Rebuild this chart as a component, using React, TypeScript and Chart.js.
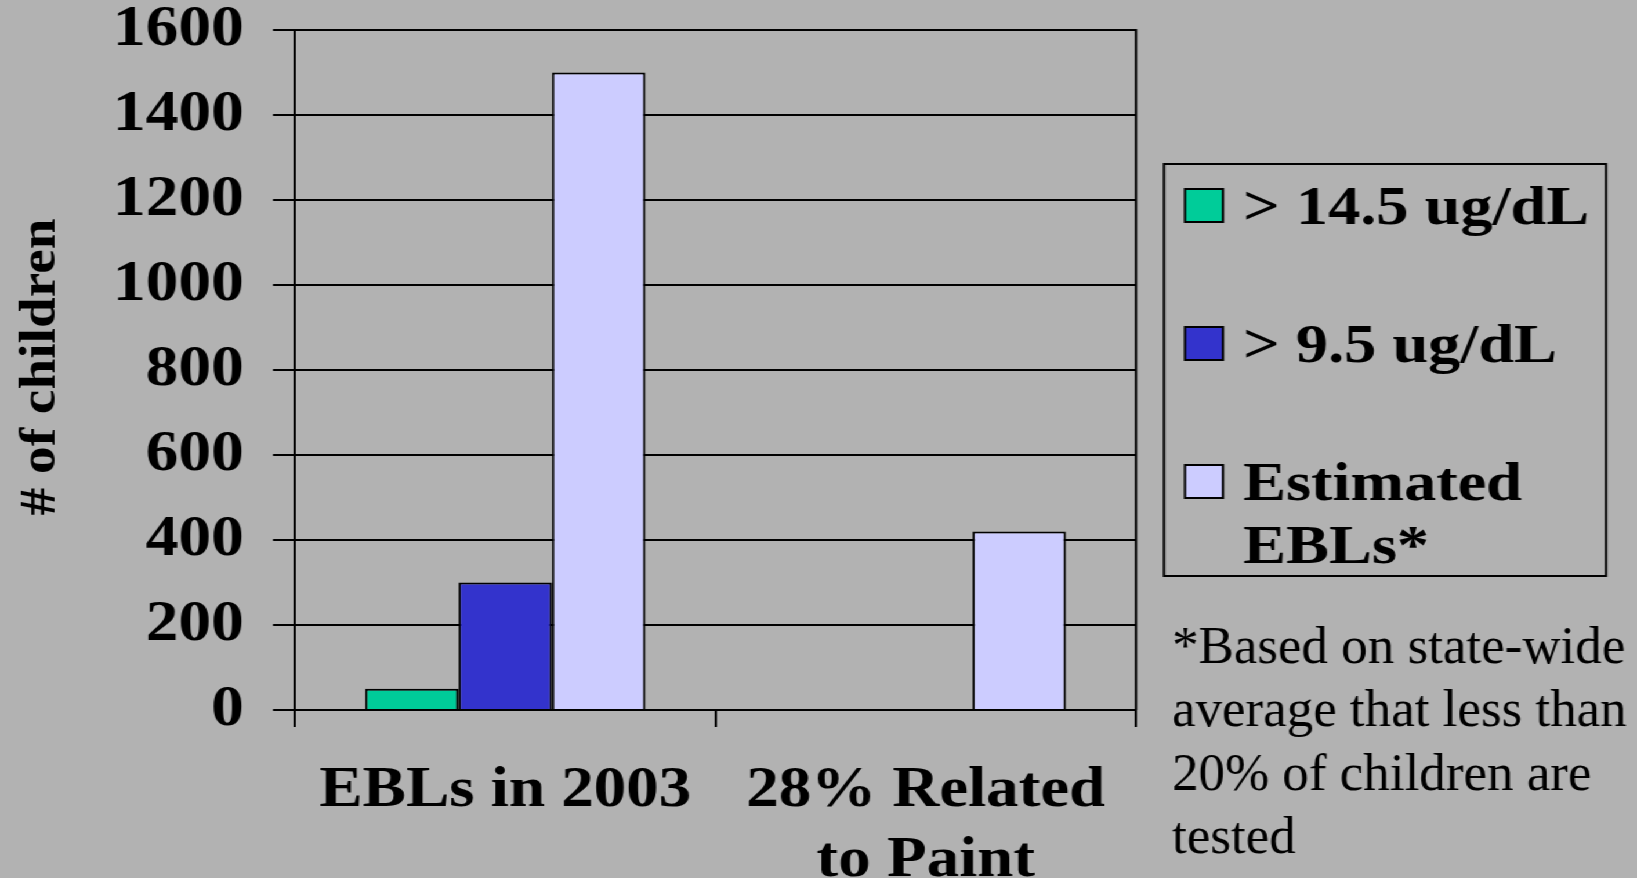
import React, { useEffect, useRef } from "react";
import { Chart, registerables } from "chart.js";

Chart.register(...registerables);

// ---- data ----
const categories: (string | string[])[] = ["EBLs in 2003", ["28% Related", "to Paint"]];
const seriesNames: string[] = ["> 14.5 ug/dL", "> 9.5 ug/dL", "Estimated EBLs*"];
const legendLines: string[][] = [["> 14.5 ug/dL"], ["> 9.5 ug/dL"], ["Estimated", "EBLs*"]];
const over145: (number | null)[] = [50, null];
const over95: (number | null)[] = [300, null];
const estimated: (number | null)[] = [1500, 420];
const seriesColors: string[] = ["#00CC99", "#3333CC", "#CCCCFF"];
const yTicks: number[] = [0, 200, 400, 600, 800, 1000, 1200, 1400, 1600];
const yTitle = "# of children";
const footnoteLines: string[] = [
  "*Based on state-wide",
  "average that less than",
  "20% of children are",
  "tested",
];

// ---- layout ----
const FULL_W = 1637;
const H = 878;
const W = 1411;
const S = FULL_W / W; // horizontal stretch of the chart object
const fx = (v: number) => v / S;
const BG = "#b2b2b2";
const SERIF = '"Liberation Serif", "Times New Roman", serif';

const bgPlugin = {
  id: "bgPlugin",
  beforeDraw(chart: any) {
    const ctx = chart.ctx;
    ctx.save();
    ctx.fillStyle = BG;
    ctx.fillRect(0, 0, chart.width, chart.height);
    ctx.restore();
  },
};

const framePlugin = {
  id: "framePlugin",
  beforeDatasetsDraw(chart: any) {
    const { ctx, chartArea } = chart;
    ctx.save();
    ctx.strokeStyle = "#000";
    ctx.lineWidth = 2;
    ctx.beginPath();
    ctx.moveTo(chartArea.right, chartArea.top - 1);
    ctx.lineTo(chartArea.right, chartArea.bottom);
    ctx.stroke();
    ctx.restore();
  },
};

const annotPlugin = {
  id: "annotPlugin",
  afterDraw(chart: any) {
    const ctx = chart.ctx as CanvasRenderingContext2D;
    const area = chart.chartArea;
    // y-axis title (stretched along its length)
    ctx.save();
    ctx.fillStyle = "#000";
    ctx.font = `bold 45px ${SERIF}`;
    const tw = ctx.measureText(yTitle).width;
    const targetLen = 297;
    ctx.translate(fx(55), (area.top + area.bottom) / 2 - 3);
    ctx.rotate(-Math.PI / 2);
    ctx.scale(targetLen / tw, 1);
    ctx.textAlign = "center";
    ctx.textBaseline = "alphabetic";
    ctx.fillText(yTitle, 0, 0);
    ctx.restore();

    // legend
    ctx.save();
    ctx.strokeStyle = "#000";
    ctx.lineWidth = 2;
    const bx = fx(1164), by = 164, bw = fx(1606) - fx(1164), bh = 576 - 164;
    ctx.strokeRect(bx, by, bw, bh);
    const ds = chart.data.datasets;
    ctx.font = `bold 55.5px ${SERIF}`;
    ctx.textAlign = "left";
    ctx.textBaseline = "alphabetic";
    for (let i = 0; i < ds.length; i++) {
      const top = 189 + i * 138;
      ctx.fillStyle = ds[i].backgroundColor;
      ctx.fillRect(fx(1185), top, fx(1223) - fx(1185), 33);
      ctx.lineWidth = 2;
      ctx.strokeRect(fx(1185), top, fx(1223) - fx(1185), 33);
      ctx.fillStyle = "#000";
      const lines = legendLines[i];
      for (let j = 0; j < lines.length; j++) {
        ctx.fillText(lines[j], fx(1243), top + 35 + j * 63);
      }
    }
    ctx.restore();

    // footnote (not stretched)
    ctx.save();
    ctx.scale(1 / S, 1);
    ctx.fillStyle = "#000";
    ctx.font = `53px ${SERIF}`;
    ctx.textAlign = "left";
    ctx.textBaseline = "alphabetic";
    for (let i = 0; i < footnoteLines.length; i++) {
      ctx.fillText(footnoteLines[i], 1172, 663 + i * 63.4);
    }
    ctx.restore();
  },
};

export default function App() {
  const ref = useRef<HTMLCanvasElement | null>(null);
  useEffect(() => {
    document.body.style.background = BG;
    const canvas = ref.current;
    if (!canvas) return;
    const data = [over145, over95, estimated];
    const chart = new Chart(canvas, {
      type: "bar",
      data: {
        labels: categories,
        datasets: seriesNames.map((name, i) => ({
          label: name,
          data: data[i],
          backgroundColor: seriesColors[i],
          borderColor: "#000",
          borderWidth: 2,
          categoryPercentage: 3 / 4.5,
          barPercentage: 1,
        })),
      },
      options: {
        responsive: false,
        animation: false,
        devicePixelRatio: 1,
        layout: { padding: { left: 0, top: 30, right: W - fx(1136), bottom: 0 } },
        plugins: {
          legend: { display: false },
          tooltip: { enabled: false },
          title: { display: false },
        },
        scales: {
          x: {
            grid: {
              display: true,
              drawOnChartArea: false,
              drawTicks: true,
              tickLength: 17,
              color: "#000",
              lineWidth: 2,
            },
            border: { display: true, color: "#000", width: 2 },
            ticks: {
              color: "#000",
              font: { family: SERIF, size: 56, weight: "bold", lineHeight: 70 / 56 },
              padding: 30,
              maxRotation: 0,
              minRotation: 0,
              autoSkip: false,
            },
            afterFit: (s: any) => {
              s.height = H - 710;
              s.paddingLeft = 0;
              s.paddingRight = 0;
            },
          },
          y: {
            min: 0,
            max: 1600,
            afterBuildTicks: (s: any) => {
              s.ticks = yTicks.map((v) => ({ value: v }));
            },
            ticks: {
              color: "#000",
              padding: 25,
              font: { family: SERIF, size: 56.5, weight: "bold", lineHeight: 1 },
              callback: (v: any) => String(v),
            },
            grid: { color: "#000", lineWidth: 2, tickLength: 19, drawTicks: true },
            border: { display: true, color: "#000", width: 2 },
            afterFit: (s: any) => {
              s.width = fx(295);
              s.paddingTop = 0;
              s.paddingBottom = 0;
            },
          },
        },
      },
      plugins: [bgPlugin, framePlugin, annotPlugin],
    } as any);
    return () => chart.destroy();
  }, []);

  return (
    <div
      style={{
        position: "fixed",
        left: 0,
        top: 0,
        width: W,
        height: H,
        transform: `scaleX(${S})`,
        transformOrigin: "0 0",
        background: BG,
      }}
    >
      <canvas ref={ref} width={W} height={H} style={{ display: "block" }} />
    </div>
  );
}
